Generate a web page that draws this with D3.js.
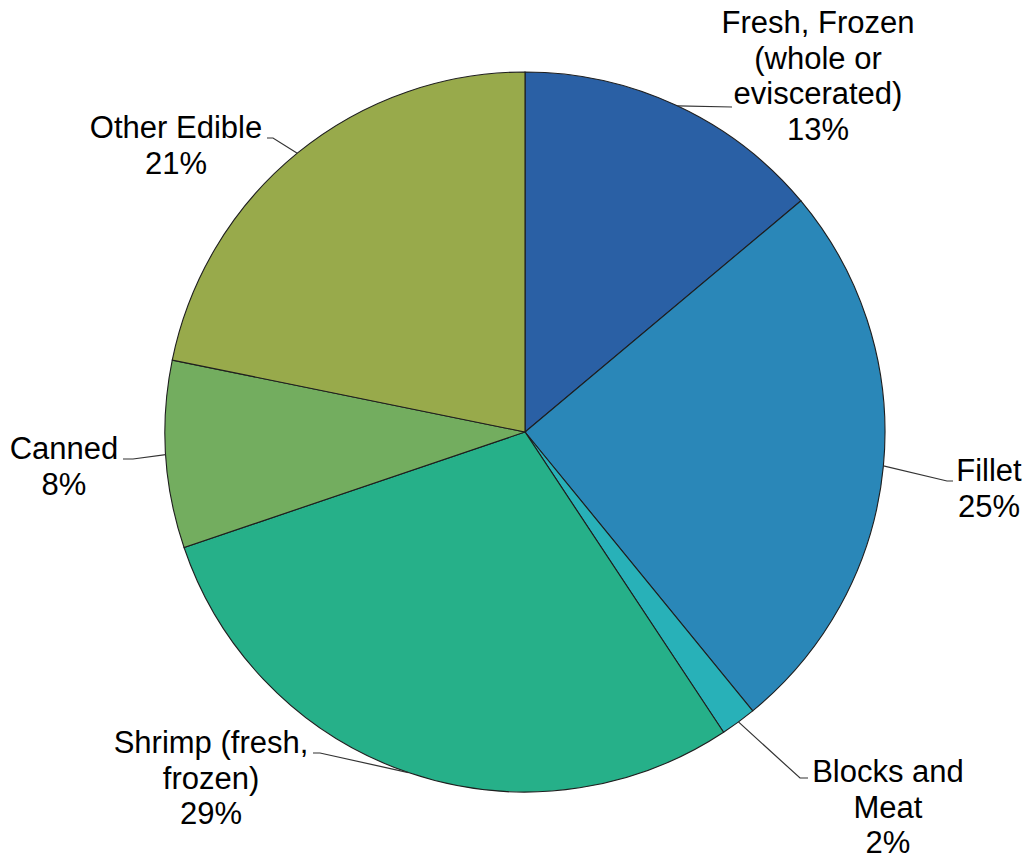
<!DOCTYPE html>
<html>
<head>
<meta charset="utf-8">
<script src="https://cdn.jsdelivr.net/npm/d3@7"></script>
<style>
  body { margin: 0; background: #fff; }
  svg text { font-family: "Liberation Sans", Arial, sans-serif; fill: #000; }
</style>
</head>
<body>
<svg width="1031" height="859"></svg>
<script>
const categories = ["Fresh, Frozen (whole or eviscerated)", "Fillet", "Blocks and Meat",
                    "Shrimp (fresh, frozen)", "Canned", "Other Edible"];
const values = [13.9, 25.2, 1.6, 29.1, 8.4, 21.8];
const pctLabels = ["13%", "25%", "2%", "29%", "8%", "21%"];
const labelLines = [
  ["Fresh, Frozen", "(whole or", "eviscerated)"],
  ["Fillet"],
  ["Blocks and", "Meat"],
  ["Shrimp (fresh,", "frozen)"],
  ["Canned"],
  ["Other Edible"]
];
const colors = ["#2a60a5", "#2a87b8", "#28b1b8", "#26b089", "#73ad5f", "#98aa4b"];

// label placement relative to pie centre (text centre x, first baseline y, leader points)
const labelLayout = [
  { tx: 293, ty: -399, pts: [[207, -325]] },
  { tx: 464, ty: 49, pts: [[422, 49], [428, 49]] },
  { tx: 363, ty: 350, pts: [[275, 346], [283, 346]] },
  { tx: -314, ty: 321, pts: [[-205, 321], [-212, 321]] },
  { tx: -461, ty: 27, pts: [[-392, 27], [-402, 27]] },
  { tx: -349, ty: -294, pts: [[-252, -294], [-258, -294]] }
];

const cx = 525, cy = 432, radius = 360;
const fontSize = 31, lineH = 35.5;

const svg = d3.select("svg");
const chart = svg.append("g").attr("transform", `translate(${cx}, ${cy})`);

const pie = d3.pie().sort(null).value(d => d);
const arcs = pie(values);

const arc = d3.arc().innerRadius(0).outerRadius(radius);
const edgeArc = d3.arc().innerRadius(radius).outerRadius(radius);

chart.selectAll("path.slice")
     .data(arcs)
     .enter()
     .append("path")
     .attr("class", "slice")
     .attr("d", arc)
     .attr("fill", (d, i) => colors[i])
     .attr("stroke", "#1e1e1e")
     .attr("stroke-width", 1.1);

// leader lines
chart.selectAll("polyline.leader")
     .data(arcs)
     .enter()
     .append("polyline")
     .attr("class", "leader")
     .attr("points", (d, i) => [edgeArc.centroid(d)].concat(labelLayout[i].pts).map(p => p.join(",")).join(" "))
     .attr("fill", "none")
     .attr("stroke", "#333")
     .attr("stroke-width", 1.2);

// labels
const labels = chart.selectAll("text.label")
     .data(arcs)
     .enter()
     .append("text")
     .attr("class", "label")
     .attr("text-anchor", "middle")
     .style("font-size", fontSize + "px");

labels.each(function (d, i) {
  const lines = labelLines[i].concat([pctLabels[i]]);
  const t = d3.select(this);
  lines.forEach((line, j) => {
    t.append("tspan")
     .attr("x", labelLayout[i].tx)
     .attr("y", labelLayout[i].ty + j * lineH)
     .text(line);
  });
});
</script>
</body>
</html>
